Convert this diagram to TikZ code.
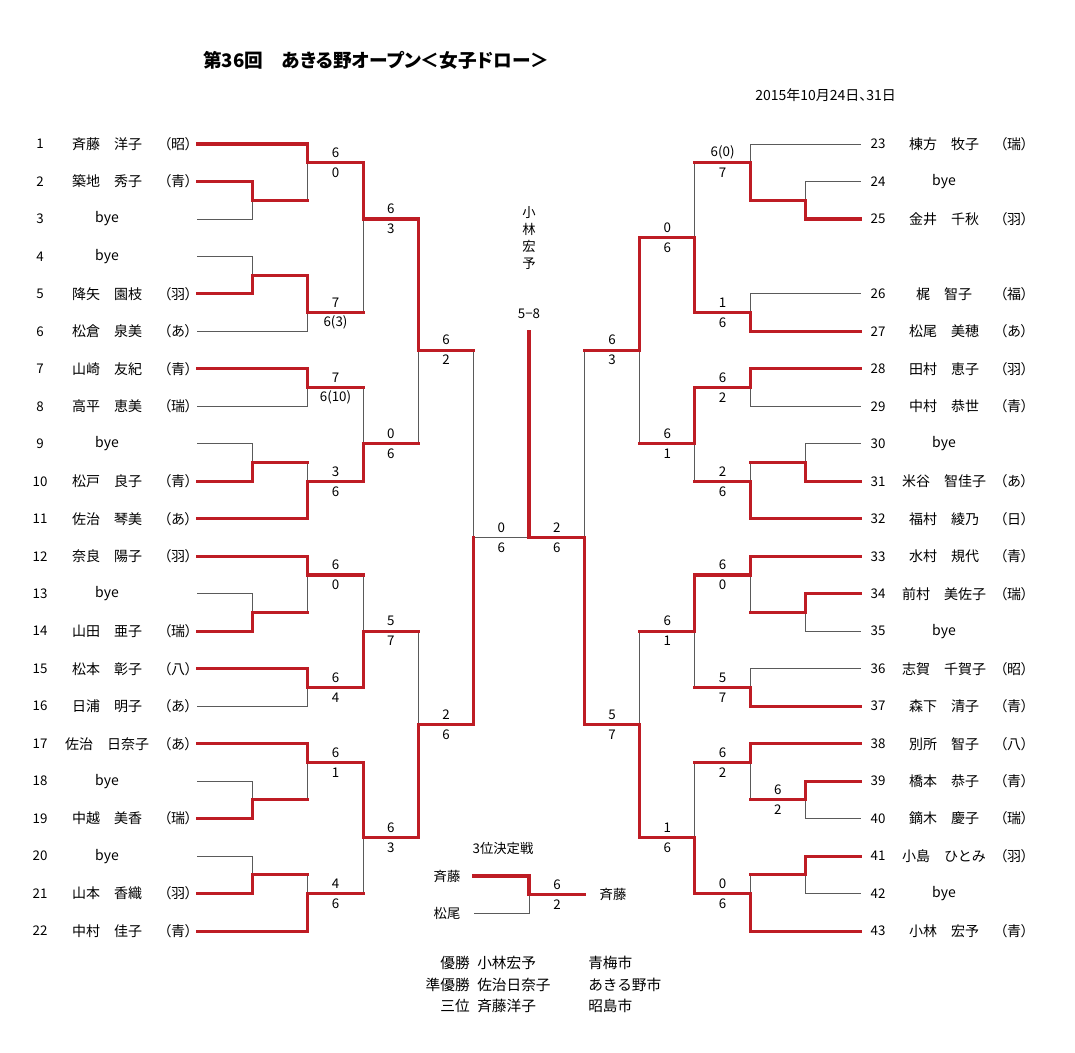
\documentclass[tikz,border=0pt]{standalone}
\usepackage{fontspec}
\setmainfont{Noto Sans CJK JP}
\newfontfamily\pfont[RawFeature=+palt]{Noto Sans CJK JP}
\definecolor{bred}{RGB}{190,28,36}
\definecolor{lgray}{RGB}{90,90,90}

\begin{document}
\begin{tikzpicture}[x=0.75pt, y=-0.75pt,
		win/.style={draw=bred, line width=2.3pt, line cap=rect},
		lose/.style={draw=lgray, line width=0.75pt},
		num/.style={font=\fontsize{10}{12}\selectfont},
		pname/.style={font=\fontsize{10.5}{12}\selectfont},
		club/.style={font=\pfont\fontsize{10.5}{12}\selectfont},
		hi/.style={font=\fontsize{10}{12}\selectfont, inner sep=0pt, yshift=7.5pt},
		lo/.style={font=\fontsize{10}{12}\selectfont, inner sep=0pt, yshift=-7.5pt},
		txt/.style={font=\fontsize{11}{13}\selectfont, inner sep=0pt}]
		\path[fill=white] (0,0) rectangle (1075,1053);

		\draw (203,60) node[anchor=west, inner sep=0pt, font=\pfont\bfseries\fontsize{14}{17}\selectfont] (title) {第36回　あきる野オープン＜女子ドロー＞};
		\draw (755,95) node[anchor=west, inner sep=0pt, font=\pfont\fontsize{10.5}{12}\selectfont] (date) {2015年10月24日、31日};

		\draw (40,144) node[num] (n1) {1} (107,144) node[pname] (p1) {斉藤　洋子} (178,144) node[club] (c1) {（昭）} (197.2,144) coordinate (e1);
		\draw (40,181.5) node[num] (n2) {2} (107,181.5) node[pname] (p2) {築地　秀子} (178,181.5) node[club] (c2) {（青）} (197.2,181.5) coordinate (e2);
		\draw (40,219) node[num] (n3) {3} (107,219) node[pname] (p3) {bye} (197.2,219) coordinate (e3);
		\draw (40,256.4) node[num] (n4) {4} (107,256.4) node[pname] (p4) {bye} (197.2,256.4) coordinate (e4);
		\draw (40,293.9) node[num] (n5) {5} (107,293.9) node[pname] (p5) {降矢　園枝} (178,293.9) node[club] (c5) {（羽）} (197.2,293.9) coordinate (e5);
		\draw (40,331.4) node[num] (n6) {6} (107,331.4) node[pname] (p6) {松倉　泉美} (178,331.4) node[club] (c6) {（あ）} (197.2,331.4) coordinate (e6);
		\draw (40,368.9) node[num] (n7) {7} (107,368.9) node[pname] (p7) {山崎　友紀} (178,368.9) node[club] (c7) {（青）} (197.2,368.9) coordinate (e7);
		\draw (40,406.4) node[num] (n8) {8} (107,406.4) node[pname] (p8) {高平　恵美} (178,406.4) node[club] (c8) {（瑞）} (197.2,406.4) coordinate (e8);
		\draw (40,443.8) node[num] (n9) {9} (107,443.8) node[pname] (p9) {bye} (197.2,443.8) coordinate (e9);
		\draw (40,481.3) node[num] (n10) {10} (107,481.3) node[pname] (p10) {松戸　良子} (178,481.3) node[club] (c10) {（青）} (197.2,481.3) coordinate (e10);
		\draw (40,518.8) node[num] (n11) {11} (107,518.8) node[pname] (p11) {佐治　琴美} (178,518.8) node[club] (c11) {（あ）} (197.2,518.8) coordinate (e11);
		\draw (40,556.3) node[num] (n12) {12} (107,556.3) node[pname] (p12) {奈良　陽子} (178,556.3) node[club] (c12) {（羽）} (197.2,556.3) coordinate (e12);
		\draw (40,593.8) node[num] (n13) {13} (107,593.8) node[pname] (p13) {bye} (197.2,593.8) coordinate (e13);
		\draw (40,631.2) node[num] (n14) {14} (107,631.2) node[pname] (p14) {山田　亜子} (178,631.2) node[club] (c14) {（瑞）} (197.2,631.2) coordinate (e14);
		\draw (40,668.7) node[num] (n15) {15} (107,668.7) node[pname] (p15) {松本　彰子} (178,668.7) node[club] (c15) {（八）} (197.2,668.7) coordinate (e15);
		\draw (40,706.2) node[num] (n16) {16} (107,706.2) node[pname] (p16) {日浦　明子} (178,706.2) node[club] (c16) {（あ）} (197.2,706.2) coordinate (e16);
		\draw (40,743.7) node[num] (n17) {17} (107,743.7) node[pname] (p17) {佐治　日奈子} (178,743.7) node[club] (c17) {（あ）} (197.2,743.7) coordinate (e17);
		\draw (40,781.2) node[num] (n18) {18} (107,781.2) node[pname] (p18) {bye} (197.2,781.2) coordinate (e18);
		\draw (40,818.6) node[num] (n19) {19} (107,818.6) node[pname] (p19) {中越　美香} (178,818.6) node[club] (c19) {（瑞）} (197.2,818.6) coordinate (e19);
		\draw (40,856.1) node[num] (n20) {20} (107,856.1) node[pname] (p20) {bye} (197.2,856.1) coordinate (e20);
		\draw (40,893.6) node[num] (n21) {21} (107,893.6) node[pname] (p21) {山本　香織} (178,893.6) node[club] (c21) {（羽）} (197.2,893.6) coordinate (e21);
		\draw (40,931.1) node[num] (n22) {22} (107,931.1) node[pname] (p22) {中村　佳子} (178,931.1) node[club] (c22) {（青）} (197.2,931.1) coordinate (e22);

		\draw (878,144) node[num] (n23) {23} (944,144) node[pname] (p23) {棟方　牧子} (1014,144) node[club] (c23) {（瑞）} (860.8,144) coordinate (e23);
		\draw (878,181.5) node[num] (n24) {24} (944,181.5) node[pname] (p24) {bye} (860.8,181.5) coordinate (e24);
		\draw (878,219) node[num] (n25) {25} (944,219) node[pname] (p25) {金井　千秋} (1014,219) node[club] (c25) {（羽）} (860.8,219) coordinate (e25);
		\draw (878,293.9) node[num] (n26) {26} (944,293.9) node[pname] (p26) {梶　智子} (1014,293.9) node[club] (c26) {（福）} (860.8,293.9) coordinate (e26);
		\draw (878,331.4) node[num] (n27) {27} (944,331.4) node[pname] (p27) {松尾　美穂} (1014,331.4) node[club] (c27) {（あ）} (860.8,331.4) coordinate (e27);
		\draw (878,368.9) node[num] (n28) {28} (944,368.9) node[pname] (p28) {田村　恵子} (1014,368.9) node[club] (c28) {（羽）} (860.8,368.9) coordinate (e28);
		\draw (878,406.4) node[num] (n29) {29} (944,406.4) node[pname] (p29) {中村　恭世} (1014,406.4) node[club] (c29) {（青）} (860.8,406.4) coordinate (e29);
		\draw (878,443.8) node[num] (n30) {30} (944,443.8) node[pname] (p30) {bye} (860.8,443.8) coordinate (e30);
		\draw (878,481.3) node[num] (n31) {31} (944,481.3) node[pname] (p31) {米谷　智佳子} (1014,481.3) node[club] (c31) {（あ）} (860.8,481.3) coordinate (e31);
		\draw (878,518.8) node[num] (n32) {32} (944,518.8) node[pname] (p32) {福村　綾乃} (1014,518.8) node[club] (c32) {（日）} (860.8,518.8) coordinate (e32);
		\draw (878,556.3) node[num] (n33) {33} (944,556.3) node[pname] (p33) {水村　規代} (1014,556.3) node[club] (c33) {（青）} (860.8,556.3) coordinate (e33);
		\draw (878,593.8) node[num] (n34) {34} (944,593.8) node[pname] (p34) {前村　美佐子} (1014,593.8) node[club] (c34) {（瑞）} (860.8,593.8) coordinate (e34);
		\draw (878,631.2) node[num] (n35) {35} (944,631.2) node[pname] (p35) {bye} (860.8,631.2) coordinate (e35);
		\draw (878,668.7) node[num] (n36) {36} (944,668.7) node[pname] (p36) {志賀　千賀子} (1014,668.7) node[club] (c36) {（昭）} (860.8,668.7) coordinate (e36);
		\draw (878,706.2) node[num] (n37) {37} (944,706.2) node[pname] (p37) {森下　清子} (1014,706.2) node[club] (c37) {（青）} (860.8,706.2) coordinate (e37);
		\draw (878,743.7) node[num] (n38) {38} (944,743.7) node[pname] (p38) {別所　智子} (1014,743.7) node[club] (c38) {（八）} (860.8,743.7) coordinate (e38);
		\draw (878,781.2) node[num] (n39) {39} (944,781.2) node[pname] (p39) {橋本　恭子} (1014,781.2) node[club] (c39) {（青）} (860.8,781.2) coordinate (e39);
		\draw (878,818.6) node[num] (n40) {40} (944,818.6) node[pname] (p40) {鏑木　慶子} (1014,818.6) node[club] (c40) {（瑞）} (860.8,818.6) coordinate (e40);
		\draw (878,856.1) node[num] (n41) {41} (944,856.1) node[pname] (p41) {小島　ひとみ} (1014,856.1) node[club] (c41) {（羽）} (860.8,856.1) coordinate (e41);
		\draw (878,893.6) node[num] (n42) {42} (944,893.6) node[pname] (p42) {bye} (860.8,893.6) coordinate (e42);
		\draw (878,931.1) node[num] (n43) {43} (944,931.1) node[pname] (p43) {小林　宏予} (1014,931.1) node[club] (c43) {（青）} (860.8,931.1) coordinate (e43);

		% match points: left half
		\coordinate (la) at (252.5,200.2);
		\coordinate (lb) at (307.8,162.7);
		\coordinate (lc) at (252.5,275.2);
		\coordinate (ld) at (307.8,312.7);
		\coordinate (le) at (363.1,219.0);
		\coordinate (lg) at (307.8,387.6);
		\coordinate (lh) at (252.5,462.6);
		\coordinate (li) at (307.8,481.3);
		\coordinate (lj) at (363.1,443.8);
		\coordinate (lq1) at (418.4,350.1);
		\coordinate (lk) at (252.5,612.5);
		\coordinate (ll) at (307.8,575.0);
		\coordinate (lm) at (307.8,687.5);
		\coordinate (ln) at (363.1,631.2);
		\coordinate (lo) at (252.5,799.9);
		\coordinate (lp) at (307.8,762.4);
		\coordinate (lt) at (252.5,874.9);
		\coordinate (lu) at (307.8,893.6);
		\coordinate (lr) at (363.1,837.4);
		\coordinate (lq2) at (418.4,724.9);
		\coordinate (ls) at (473.7,537.5);
		% match points: right half
		\coordinate (ra) at (805.5,200.2);
		\coordinate (rb) at (750.2,162.7);
		\coordinate (rc) at (750.2,312.7);
		\coordinate (rd) at (694.9,237.7);
		\coordinate (rf) at (750.2,387.6);
		\coordinate (rg) at (805.5,462.6);
		\coordinate (rh) at (750.2,481.3);
		\coordinate (re) at (694.9,443.8);
		\coordinate (rq1) at (639.6,350.1);
		\coordinate (ri) at (805.5,612.5);
		\coordinate (rj) at (750.2,575.0);
		\coordinate (rk) at (750.2,687.5);
		\coordinate (rl) at (694.9,631.2);
		\coordinate (rn) at (805.5,799.9);
		\coordinate (ro) at (750.2,762.4);
		\coordinate (rp) at (805.5,874.9);
		\coordinate (rt) at (750.2,893.6);
		\coordinate (rm) at (694.9,837.4);
		\coordinate (rq2) at (639.6,724.9);
		\coordinate (rs) at (584.3,537.5);
		\coordinate (fin) at (529,332);

		\draw [lose] (e2) -| (la) (e3) -| (la) (e1) -| (lb) (la) -| (lb);
		\draw [lose] (e4) -| (lc) (e5) -| (lc) (lc) -| (ld) (e6) -| (ld);
		\draw [lose] (lb) -| (le) (ld) -| (le);
		\draw [lose] (e7) -| (lg) (e8) -| (lg) (e9) -| (lh) (e10) -| (lh);
		\draw [lose] (lh) -| (li) (e11) -| (li) (lg) -| (lj) (li) -| (lj);
		\draw [lose] (le) -| (lq1) (lj) -| (lq1);
		\draw [lose] (e13) -| (lk) (e14) -| (lk) (e12) -| (ll) (lk) -| (ll);
		\draw [lose] (e15) -| (lm) (e16) -| (lm) (ll) -| (ln) (lm) -| (ln);
		\draw [lose] (e18) -| (lo) (e19) -| (lo) (e17) -| (lp) (lo) -| (lp);
		\draw [lose] (e20) -| (lt) (e21) -| (lt) (lt) -| (lu) (e22) -| (lu);
		\draw [lose] (lp) -| (lr) (lu) -| (lr) (ln) -| (lq2) (lr) -| (lq2);
		\draw [lose] (lq1) -| (ls) (lq2) -| (ls) (ls) -| (fin);
		\draw [lose] (e24) -| (ra) (e25) -| (ra) (e23) -| (rb) (ra) -| (rb);
		\draw [lose] (e26) -| (rc) (e27) -| (rc) (rb) -| (rd) (rc) -| (rd);
		\draw [lose] (e28) -| (rf) (e29) -| (rf) (e30) -| (rg) (e31) -| (rg);
		\draw [lose] (rg) -| (rh) (e32) -| (rh) (rf) -| (re) (rh) -| (re);
		\draw [lose] (rd) -| (rq1) (re) -| (rq1);
		\draw [lose] (e34) -| (ri) (e35) -| (ri) (e33) -| (rj) (ri) -| (rj);
		\draw [lose] (e36) -| (rk) (e37) -| (rk) (rj) -| (rl) (rk) -| (rl);
		\draw [lose] (e39) -| (rn) (e40) -| (rn) (e38) -| (ro) (rn) -| (ro);
		\draw [lose] (e41) -| (rp) (e42) -| (rp) (rp) -| (rt) (e43) -| (rt);
		\draw [lose] (ro) -| (rm) (rt) -| (rm) (rl) -| (rq2) (rm) -| (rq2);
		\draw [lose] (rq1) -| (rs) (rq2) -| (rs) (rs) -| (fin);

		\draw [win] (e1) -| (lb) -| (le) -| (lq1) -- (lq1 -| ls);
		\draw [win] (e2) -| (la) -- (la -| lb);
		\draw [win] (e5) -| (lc) -| (ld) -- (ld -| le);
		\draw [win] (e7) -| (lg) -- (lg -| lj);
		\draw [win] (e10) -| (lh) -- (lh -| li);
		\draw [win] (e11) -| (li) -| (lj) -- (lj -| lq1);
		\draw [win] (e12) -| (ll) -- (ll -| ln);
		\draw [win] (e14) -| (lk) -- (lk -| ll);
		\draw [win] (e15) -| (lm) -| (ln) -- (ln -| lq2);
		\draw [win] (e17) -| (lp) -| (lr) -| (lq2) -| (ls);
		\draw [win] (e19) -| (lo) -- (lo -| lp);
		\draw [win] (e21) -| (lt) -- (lt -| lu);
		\draw [win] (e22) -| (lu) -- (lu -| lr);
		\draw [win] (e25) -| (ra) -| (rb) -- (rb -| rd);
		\draw [win] (e27) -| (rc) -| (rd) -| (rq1) -- (rq1 -| rs);
		\draw [win] (e28) -| (rf) -| (re) -- (re -| rq1);
		\draw [win] (e31) -| (rg) -- (rg -| rh);
		\draw [win] (e32) -| (rh) -- (rh -| re);
		\draw [win] (e33) -| (rj) -| (rl) -- (rl -| rq2);
		\draw [win] (e34) -| (ri) -- (ri -| rj);
		\draw [win] (e37) -| (rk) -- (rk -| rl);
		\draw [win] (e38) -| (ro) -- (ro -| rm);
		\draw [win] (e39) -| (rn) -- (rn -| ro);
		\draw [win] (e41) -| (rp) -- (rp -| rt);
		\draw [win] (e43) -| (rt) -| (rm) -| (rq2) -| (rs) -| (fin);

		\draw (335.5,162.7) node[hi] (slb1) {6} node[lo] (slb2) {0};
		\draw (335.5,312.7) node[hi] (sld1) {7} node[lo] (sld2) {6(3)};
		\draw (390.8,219.0) node[hi] (sle1) {6} node[lo] (sle2) {3};
		\draw (335.5,387.6) node[hi] (slg1) {7} node[lo] (slg2) {6(10)};
		\draw (335.5,481.3) node[hi] (sli1) {3} node[lo] (sli2) {6};
		\draw (390.8,443.8) node[hi] (slj1) {0} node[lo] (slj2) {6};
		\draw (446.1,350.1) node[hi] (slq11) {6} node[lo] (slq12) {2};
		\draw (335.5,575.0) node[hi] (sll1) {6} node[lo] (sll2) {0};
		\draw (335.5,687.5) node[hi] (slm1) {6} node[lo] (slm2) {4};
		\draw (390.8,631.2) node[hi] (sln1) {5} node[lo] (sln2) {7};
		\draw (335.5,762.4) node[hi] (slp1) {6} node[lo] (slp2) {1};
		\draw (335.5,893.6) node[hi] (slu1) {4} node[lo] (slu2) {6};
		\draw (390.8,837.4) node[hi] (slr1) {6} node[lo] (slr2) {3};
		\draw (446.1,724.9) node[hi] (slq21) {2} node[lo] (slq22) {6};
		\draw (501.4,537.5) node[hi] (sls1) {0} node[lo] (sls2) {6};
		\draw (722.6,162.7) node[hi] (srb1) {6(0)} node[lo] (srb2) {7};
		\draw (722.6,312.7) node[hi] (src1) {1} node[lo] (src2) {6};
		\draw (667.3,237.7) node[hi] (srd1) {0} node[lo] (srd2) {6};
		\draw (612.0,350.1) node[hi] (srq11) {6} node[lo] (srq12) {3};
		\draw (722.6,387.6) node[hi] (srf1) {6} node[lo] (srf2) {2};
		\draw (722.6,481.3) node[hi] (srh1) {2} node[lo] (srh2) {6};
		\draw (667.3,443.8) node[hi] (sre1) {6} node[lo] (sre2) {1};
		\draw (722.6,575.0) node[hi] (srj1) {6} node[lo] (srj2) {0};
		\draw (722.6,687.5) node[hi] (srk1) {5} node[lo] (srk2) {7};
		\draw (667.3,631.2) node[hi] (srl1) {6} node[lo] (srl2) {1};
		\draw (777.9,799.9) node[hi] (srn1) {6} node[lo] (srn2) {2};
		\draw (722.6,762.4) node[hi] (sro1) {6} node[lo] (sro2) {2};
		\draw (722.6,893.6) node[hi] (srt1) {0} node[lo] (srt2) {6};
		\draw (667.3,837.4) node[hi] (srm1) {1} node[lo] (srm2) {6};
		\draw (612.0,724.9) node[hi] (srq21) {5} node[lo] (srq22) {7};
		\draw (556.7,537.5) node[hi] (srs1) {2} node[lo] (srs2) {6};

		\draw (529,238) node[align=center, font=\fontsize{10}{12.75}\selectfont] (champ) {小\\林\\宏\\予};
		\draw (529,314) node[num] (champsc) {5−8};

		\draw (503,848) node[num] (third) {3位決定戦};
		\draw (447,876) node[num] (ta) {斉藤};
		\draw (447,913) node[num] (tb) {松尾};
		\draw (613,894.5) node[num] (tc) {斉藤};
		\coordinate (t1) at (474,876);
		\coordinate (t2) at (474,913);
		\coordinate (t3) at (529,894.5);
		\coordinate (t4) at (584,894.5);
		\draw [lose] (t2) -| (t3);
		\draw [win] (t1) -| (t3) -- (t4);
		\draw (557,894.5) node[hi] (st1) {6} node[lo] (st2) {2};

		\draw (470,963) node[txt, anchor=east] (rk1) {優勝};
		\draw (477,963) node[txt, anchor=west] (wn1) {小林宏予};
		\draw (588,963) node[txt, anchor=west] (ct1) {青梅市};
		\draw (470,984.5) node[txt, anchor=east] (rk2) {準優勝};
		\draw (477,984.5) node[txt, anchor=west] (wn2) {佐治日奈子};
		\draw (588,984.5) node[txt, anchor=west] (ct2) {あきる野市};
		\draw (470,1006) node[txt, anchor=east] (rk3) {三位};
		\draw (477,1006) node[txt, anchor=west] (wn3) {斉藤洋子};
		\draw (588,1006) node[txt, anchor=west] (ct3) {昭島市};
	\end{tikzpicture}
\end{document}
